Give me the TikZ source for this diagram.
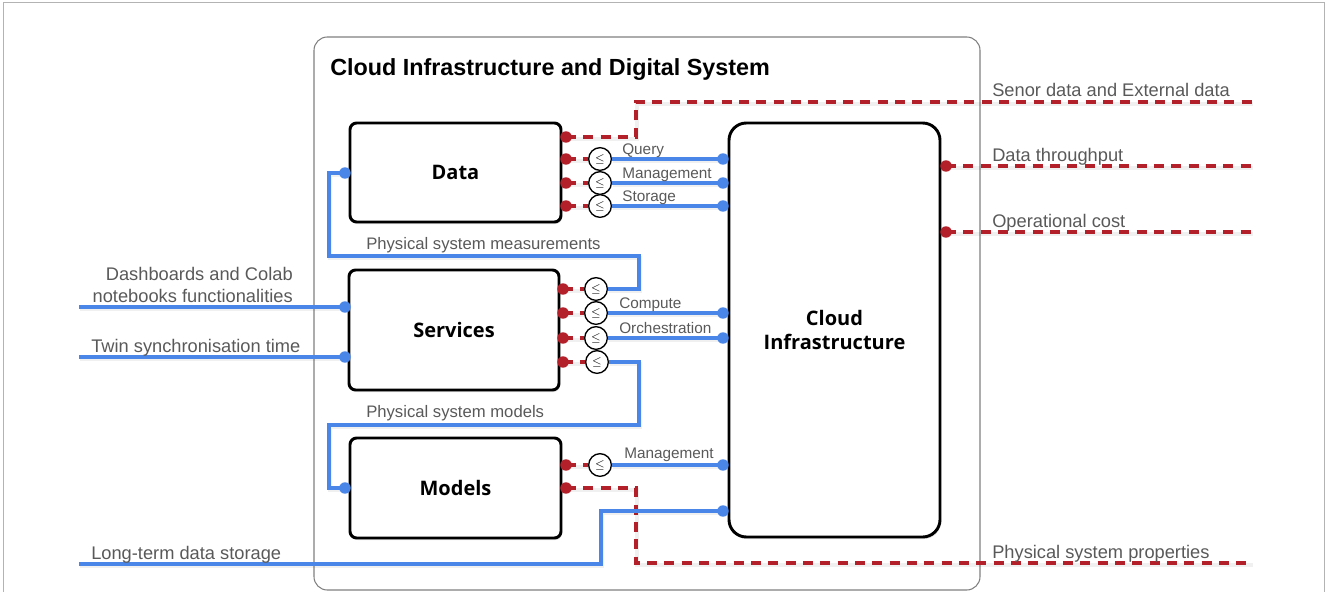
\documentclass[tikz,border=0pt]{standalone}
\usepackage{fontspec}
\setmainfont{Liberation Sans}
\newfontfamily\blockfont{Open Sans}
\usetikzlibrary{fit,shadows}

\definecolor{linkblue}{HTML}{4A86E8}
\definecolor{sigred}{HTML}{B3202A}
\definecolor{labelgray}{HTML}{595959}
\definecolor{framegray}{HTML}{808080}

\tikzset{
  container/.style={draw=framegray, line width=0.8pt, rounded corners=10pt, inner sep=0pt},
  block/.style={draw=black, line width=2.2pt, rounded corners=5pt, fill=white, inner sep=0pt,
    drop shadow={shadow xshift=0.8pt, shadow yshift=-1.5pt, opacity=0.25}},
  cloudblock/.style={block, rounded corners=13pt},
  blocktext/.style={font=\blockfont\bfseries\fontsize{15}{18}\selectfont, align=center},
  cmp/.style={circle, draw=black, line width=1pt, fill=white, minimum size=17pt,
    inner sep=0pt, font=\fontsize{9.5}{9.5}\selectfont},
  softshadow/.style={preaction={draw=black, opacity=0.06, line width=2.8pt,
    transform canvas={shift={(0.6pt,-1.4pt)}}}},
  link/.style={draw=linkblue, line width=2.3pt, softshadow},
  sig/.style={draw=sigred, line width=2.3pt, dash pattern=on 7.5pt off 5.5pt, softshadow},
  lbl/.style={text=labelgray, font=\fontsize{13.7}{16.5}\selectfont, inner sep=0pt},
  routelbl/.style={lbl, font=\fontsize{12.5}{15}\selectfont},
  portlbl/.style={lbl, font=\fontsize{11.5}{14}\selectfont},
}

\begin{document}
\begin{tikzpicture}[x=0.75pt, y=-0.75pt]
\useasboundingbox (0,0) rectangle (1327,592);

% thin outer frame
\draw[framegray!60, line width=0.6pt] (3,600) -- (3,2.5) -- (1324,2.5) -- (1324,600);

% enclosing system
\node[container, fit={(314,37) (980,590)}] (sys) {};
\node[anchor=base west, inner sep=0pt, font=\bfseries\fontsize{17.5}{20}\selectfont] (title) at (330,75)
  {Cloud Infrastructure and Digital System};

% main blocks
\node[block, fit={(350,123) (561,222)}] (data) {};
\node[blocktext] at (data.center) {Data};
\node[block, fit={(349,270) (559,390)}] (services) {};
\node[blocktext] at (services.center) {Services};
\node[block, fit={(350,438) (561,538)}] (models) {};
\node[blocktext] at (models.center) {Models};
\node[cloudblock, fit={(729,123) (940,537)}] (cloud) {};
\node[blocktext] at (cloud.center) {Cloud\\Infrastructure};

% port positions
\coordinate (dR0) at (566,137);
\coordinate (dR1) at (566,159);
\coordinate (dR2) at (566,183);
\coordinate (dR3) at (566,206);
\coordinate (dL) at (345,173);
\coordinate (sR1) at (563,289);
\coordinate (sR2) at (563,313);
\coordinate (sR3) at (563,338);
\coordinate (sR4) at (563,362);
\coordinate (sL1) at (345,307);
\coordinate (sL2) at (345,357);
\coordinate (mR1) at (566,465);
\coordinate (mR2) at (566,488);
\coordinate (mL) at (345,488);
\coordinate (cL1) at (723,159);
\coordinate (cL2) at (723,183);
\coordinate (cL3) at (723,206);
\coordinate (cL4) at (723,313);
\coordinate (cL5) at (723,338);
\coordinate (cL6) at (723,465);
\coordinate (cL7) at (723,511);
\coordinate (cR1) at (946,166);
\coordinate (cR2) at (946,232);

% comparators
\node[cmp] (dc1) at (600,159) {$\leq$};
\node[cmp] (dc2) at (600,183) {$\leq$};
\node[cmp] (dc3) at (600,206) {$\leq$};
\node[cmp] (sc1) at (596,289) {$\leq$};
\node[cmp] (sc2) at (596,313) {$\leq$};
\node[cmp] (sc3) at (596,338) {$\leq$};
\node[cmp] (sc4) at (597,362) {$\leq$};
\node[cmp] (mc1) at (600,465) {$\leq$};

% free ends
\coordinate (inDash) at (79,307);
\coordinate (inTwin) at (79,357);
\coordinate (inStore) at (79,564);
\coordinate (outSensor) at (1252,102);
\coordinate (outThrough) at (1252,166);
\coordinate (outCost) at (1252,232);
\coordinate (outProps) at (1252,563);

% signal (red dashed) connectors
\draw[sig] (dR0) -- (636,137) -- (636,102) -- (outSensor);
\draw[sig] (dR1) -- (dc1);
\draw[sig] (dR2) -- (dc2);
\draw[sig] (dR3) -- (dc3);
\draw[sig] (sR1) -- (sc1);
\draw[sig] (sR2) -- (sc2);
\draw[sig] (sR3) -- (sc3);
\draw[sig] (sR4) -- (sc4);
\draw[sig] (mR1) -- (mc1);
\draw[sig] (mR2) -- (636,488) -- (636,563) -- (outProps);
\draw[sig] (cR1) -- (outThrough);
\draw[sig] (cR2) -- (outCost);

% link (blue) connectors
\draw[link] (dc1) -- (cL1);
\draw[link] (dc2) -- (cL2);
\draw[link] (dc3) -- (cL3);
\draw[link] (sc2) -- (cL4);
\draw[link] (sc3) -- (cL5);
\draw[link] (mc1) -- (cL6);
\draw[link] (dL) -- (329,173) -- (329,256) -- (639,256) -- (639,289) -- (sc1);
\draw[link] (sc4) -- (639,362) -- (639,425) -- (329,425) -- (329,488) -- (mL);
\draw[link] (inStore) -- (601,564) -- (601,511) -- (cL7);
\draw[link] (inDash) -- (sL1);
\draw[link] (inTwin) -- (sL2);

% port dots above the connector ends
\foreach \p in {dR0,dR1,dR2,dR3,sR1,sR2,sR3,sR4,mR1,mR2,cR1,cR2}
  \fill[sigred] (\p) circle (4.3pt);
\foreach \p in {dL,sL1,sL2,mL,cL1,cL2,cL3,cL4,cL5,cL6,cL7}
  \fill[linkblue] (\p) circle (4.3pt);

% labels
\node[portlbl, anchor=base west] (lQuery) at (622,154) {Query};
\node[portlbl, anchor=base west] (lMgmt) at (622,178) {Management};
\node[portlbl, anchor=base west] (lStore) at (622,201) {Storage};
\node[portlbl, anchor=base west] (lComp) at (619,308) {Compute};
\node[portlbl, anchor=base west] (lOrch) at (619,333) {Orchestration};
\node[portlbl, anchor=base west] (lMgmt2) at (624,458) {Management};
\node[routelbl, anchor=base west] (lMeas) at (366,249) {Physical system measurements};
\node[routelbl, anchor=base west] (lModels) at (366,417) {Physical system models};
\node[lbl, anchor=base west] (lSensor) at (992,97) {Senor data and External data};
\node[lbl, anchor=base west] (lThrough) at (992,161) {Data throughput};
\node[lbl, anchor=base west] (lCost) at (992,227) {Operational cost};
\node[lbl, anchor=base west] (lProps) at (992,558) {Physical system properties};
\node[lbl, anchor=base west] (lTwin) at (91,352) {Twin synchronisation time};
\node[lbl, anchor=base west] (lLong) at (91,559) {Long-term data storage};
\node[lbl, anchor=base east, align=right] (lDash) at (293,302) {Dashboards and Colab\\notebooks functionalities};
\end{tikzpicture}
\end{document}
